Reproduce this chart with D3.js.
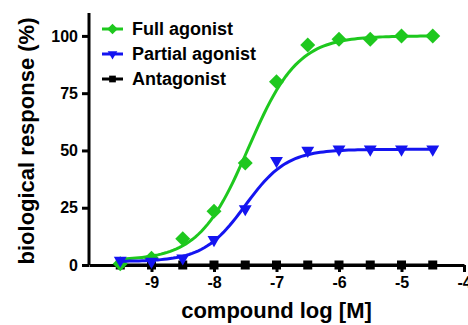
<!DOCTYPE html>
<html>
<head>
<meta charset="utf-8">
<script src="https://cdn.jsdelivr.net/npm/d3@7"></script>
<style>
  body { margin: 0; background: #fff; }
  text { font-family: "Liberation Sans", Arial, sans-serif; font-weight: bold; }
</style>
</head>
<body>
<div id="chart"></div>
<script>
// log concentrations of the measured points
var logDose = [-9.5, -9, -8.5, -8, -7.5, -7, -6.5, -6, -5.5, -5, -4.5];
var fullAgonist    = [0.5, 3, 11.5, 23.5, 44.5, 80, 96, 98.5, 98.5, 100, 100];
var partialAgonist = [2, 1.5, 3, 11, 24.5, 45.5, 50, 50.5, 50.5, 50.5, 50.5];
var antagonist     = [0, 0, 0, 0, 0, 0, 0, 0, 0, 0, 0];
// fitted curve parameters: bottom, top, logEC50, hill slope
var fullFit    = [2, 100, -7.45, 1.1];
var partialFit = [1.5, 50.5, -7.5, 1.3];
var antagonistFit = [0, 0, -7.5, 1];
var xTicks = [-9, -8, -7, -6, -5, -4];
var yTicks = [0, 25, 50, 75, 100];
var seriesNames = ["Full agonist", "Partial agonist", "Antagonist"];

var width = 468, height = 325;
var margin = {top: 13, right: 4, bottom: 60, left: 89};

var svg = d3.select("#chart").append("svg")
    .attr("width", width)
    .attr("height", height);

var x = d3.scaleLinear().domain([-10, -4]).range([margin.left, width - margin.right]);
var y = d3.scaleLinear().domain([0, 110]).range([height - margin.bottom, margin.top]);

function fourPL(p, lx) {
  return p[0] + (p[1] - p[0]) / (1 + Math.pow(10, (p[2] - lx) * p[3]));
}

var series = [
  {name: seriesNames[2], values: antagonist, fit: antagonistFit, color: "#000000", shape: "square"},
  {name: seriesNames[0], values: fullAgonist, fit: fullFit, color: "#1ec81e", shape: "diamond"},
  {name: seriesNames[1], values: partialAgonist, fit: partialFit, color: "#1414f0", shape: "triangle"}
];

function markerPath(shape, big) {
  if (shape == "diamond") return d3.symbol().type(d3.symbolSquare).size(big ? 112 : 56)();
  if (shape == "triangle") return d3.symbol().type(d3.symbolTriangle).size(big ? 72 : 40)();
  return d3.symbol().type(d3.symbolSquare).size(big ? 81 : 45)();
}
function markerRotate(shape) {
  if (shape == "diamond") return 45;
  if (shape == "triangle") return 180;
  return 0;
}

// axes
var yAxis = svg.append("g")
    .attr("transform", "translate(" + margin.left + ",0)")
    .call(d3.axisLeft(y).tickValues(yTicks).tickSize(7).tickSizeOuter(0).tickPadding(4));
var xAxis = svg.append("g")
    .attr("transform", "translate(0," + y(0) + ")")
    .call(d3.axisBottom(x).tickValues(xTicks).tickSize(7).tickSizeOuter(0).tickPadding(5)
      .tickFormat(function(d) { return String(d); }));

[xAxis, yAxis].forEach(function(a) {
  a.selectAll("path, line").attr("stroke", "#000").attr("stroke-width", 3);
  a.selectAll("text").attr("fill", "#000").style("font-size", "16px");
});
yAxis.select(".domain").attr("d", "M0," + y(0) + "V" + margin.top);

// fitted curves
var curveX = d3.range(0, 101).map(function(i) { return -9.5 + i * 0.05; });
var line = d3.line()
    .x(function(d) { return x(d[0]); })
    .y(function(d) { return y(d[1]); });

series.forEach(function(s) {
  var pts = curveX.map(function(lx) { return [lx, fourPL(s.fit, lx)]; });
  svg.append("path")
      .datum(pts)
      .attr("fill", "none")
      .attr("stroke", s.color)
      .attr("stroke-width", 3)
      .attr("d", line);

  svg.selectAll(null)
      .data(s.values)
    .enter().append("path")
      .attr("d", markerPath(s.shape, true))
      .attr("fill", s.color)
      .attr("transform", function(d, i) {
        return "translate(" + x(logDose[i]) + "," + y(d) + ") rotate(" + markerRotate(s.shape) + ")";
      });
});

// legend
var legendOrder = [series[1], series[2], series[0]];
var legend = svg.append("g");
legendOrder.forEach(function(s, i) {
  var ly = 29 + i * 25;
  legend.append("line")
      .attr("x1", 102).attr("x2", 123)
      .attr("y1", ly).attr("y2", ly)
      .attr("stroke", s.color).attr("stroke-width", 3);
  legend.append("path")
      .attr("d", markerPath(s.shape, false))
      .attr("fill", s.color)
      .attr("transform", "translate(112.5," + ly + ") rotate(" + markerRotate(s.shape) + ")");
  legend.append("text")
      .attr("x", 132).attr("y", ly + 6)
      .style("font-size", "18px")
      .text(s.name);
});

// axis titles
svg.append("text")
    .attr("x", (x(-10) + x(-4)) / 2)
    .attr("y", 318)
    .attr("text-anchor", "middle")
    .style("font-size", "22px")
    .text("compound log [M]");

svg.append("text")
    .attr("transform", "translate(34," + ((y(0) + margin.top) / 2 + 2) + ") rotate(-90)")
    .attr("text-anchor", "middle")
    .style("font-size", "22px")
    .text("biological response (%)");
</script>
</body>
</html>
